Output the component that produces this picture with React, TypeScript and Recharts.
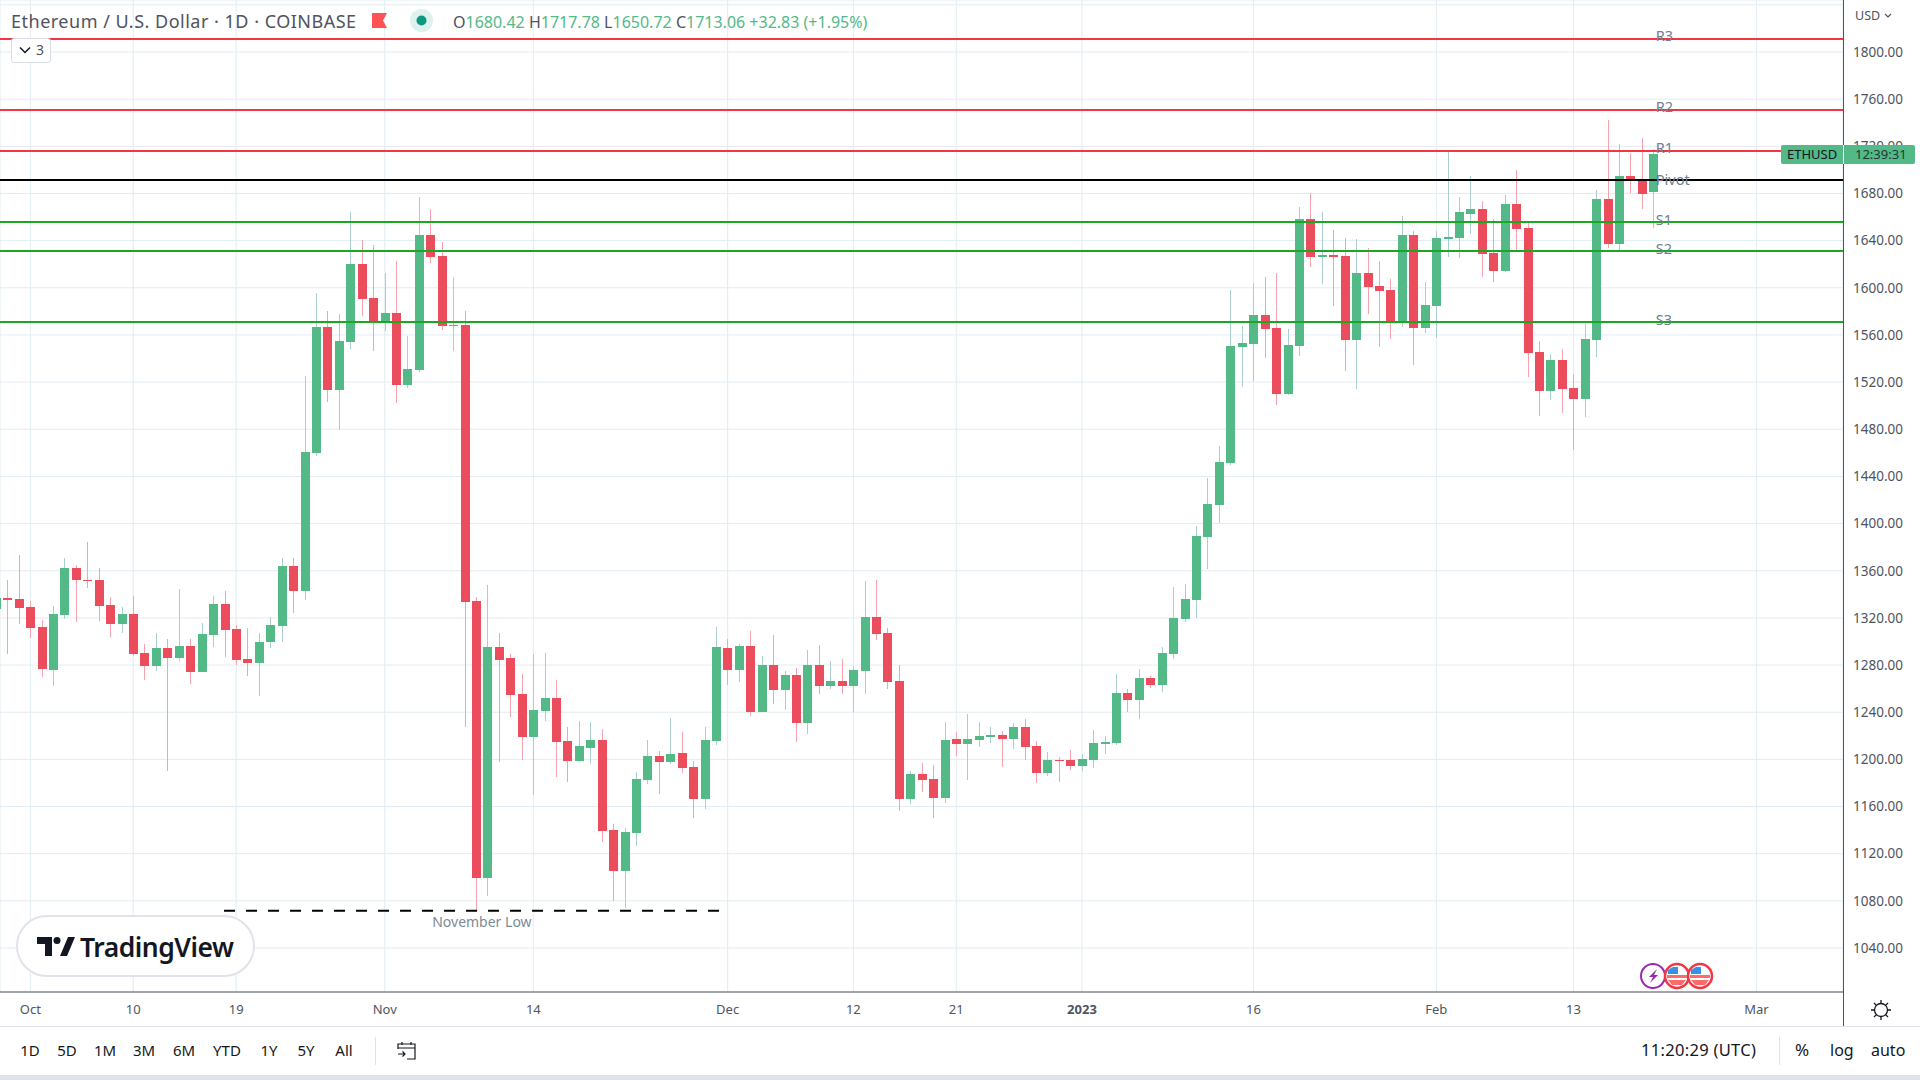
import { Bar, CartesianGrid, ComposedChart, ReferenceDot, ReferenceLine, XAxis, YAxis } from "recharts";

const FONT = '"Noto Sans", sans-serif';

// first entry is 28 Sep 2022, last is 20 Feb 2023, index 0 is 1 Oct
const firstDay = -3;
const opens = [
  1327.9, 1337.2, 1336.4, 1329.6, 1312.6, 1276.2, 1322.8, 1362.7, 1352.5, 1352.5, 1331.3, 1315.2, 1323.7, 1290.6, 1279.6, 1294.8, 1286.4, 1296.5, 1274.5, 1305.9,
  1332.2, 1311, 1285.5, 1282.1, 1299.9, 1313.5, 1364.4, 1342.8, 1459.8, 1566.6, 1513.2, 1553.9, 1620.1, 1591.2, 1571.7, 1578.5, 1517.4, 1530.2, 1644.7, 1626.9,
  1567.5, 1568.3, 1334.7, 1099.8, 1295.7, 1286.4, 1255.8, 1219.4, 1241.4, 1252.4, 1216, 1199, 1210, 1216.8, 1140.5, 1105.7, 1137.9, 1182.9, 1203.2, 1198.2,
  1205.8, 1193.9, 1166.8, 1216, 1294.8, 1276.2, 1296.5, 1240.6, 1280.4, 1259.2, 1271.9, 1231.2, 1280.4, 1262.6, 1266.9, 1262.6, 1275.3, 1321.1, 1307.6, 1266.9,
  1166.8, 1188, 1183.7, 1167.6, 1217.7, 1213.4, 1216.8, 1219.4, 1221.1, 1217.7, 1227.8, 1211.7, 1188.8, 1199.9, 1199.9, 1194.8, 1199.9, 1213.4, 1214.3, 1256.7,
  1250.7, 1269.4, 1263.5, 1289.8, 1319.4, 1335.5, 1388.5, 1415.7, 1451.3, 1549.7, 1552.2, 1576.8, 1565.8, 1509.8, 1550.5, 1658.2, 1626, 1627.7, 1626.9, 1555.6,
  1612.4, 1601.4, 1598, 1571.7, 1644.7, 1565.8, 1584.4, 1641.3, 1642.1, 1662.5, 1666.9, 1629.5, 1614.3, 1671.1, 1650.7, 1545.6, 1512.5, 1538.8, 1515, 1505.7,
  1555.8, 1675.3, 1637.2, 1694.8, 1691.4, 1680.42,
];
const highs = [
  1343, 1352.5, 1373.7, 1334.7, 1318.6, 1330.5, 1371.2, 1365.2, 1384.7, 1362.7, 1338.1, 1329.6, 1338.9, 1298.2, 1307.6, 1302.5, 1344.9, 1302.5, 1316, 1338.9,
  1343.2, 1314.3, 1311.8, 1307.6, 1321.1, 1371.2, 1371.2, 1525.1, 1595.5, 1580.2, 1577.7, 1664.2, 1640.4, 1636.2, 1612.4, 1622.6, 1559, 1676.9, 1666.7, 1638.7,
  1609, 1580.2, 1338.1, 1348.3, 1307.6, 1289.8, 1272.8, 1289.8, 1290.6, 1267.7, 1227.8, 1232.9, 1232.1, 1226.1, 1145.6, 1142.2, 1189.7, 1216.8, 1207.5, 1235.5,
  1223.6, 1199, 1227.8, 1312.6, 1302.5, 1298.2, 1309.3, 1288.1, 1305.9, 1275.3, 1277.9, 1293.1, 1297.4, 1283.8, 1285.5, 1279.6, 1351.7, 1352.5, 1311.8, 1280.4,
  1190.5, 1197.3, 1195.6, 1232.1, 1223.6, 1238.9, 1232.1, 1227.8, 1224.4, 1231.2, 1234.6, 1216, 1206.6, 1202.4, 1208.3, 1204.9, 1225.3, 1220.2, 1272.8, 1260.1,
  1277, 1271.1, 1295.7, 1346.6, 1349.1, 1397.9, 1438.6, 1465.7, 1598, 1567.5, 1604, 1609, 1612.4, 1564.9, 1668.4, 1680.3, 1664.2, 1648.9, 1642.1, 1641.3,
  1633.6, 1622.6, 1607.3, 1660.8, 1648.1, 1604.8, 1648.1, 1715, 1676.9, 1694.7, 1673.6, 1658.4, 1678.7, 1699.9, 1655, 1554.9, 1543.9, 1548.1, 1526.9, 1569.3,
  1683, 1742.3, 1722, 1714.3, 1727, 1717.78,
];
const lows = [
  1315, 1289, 1315.2, 1303.3, 1270.2, 1262.6, 1319.4, 1316.9, 1345.7, 1317.7, 1304.2, 1307.6, 1288.1, 1267.7, 1275.3, 1190.5, 1283.8, 1264.3, 1274.5, 1295.7,
  1287.2, 1280.4, 1271.1, 1254.1, 1294.8, 1299.9, 1324.5, 1335, 1457.2, 1503, 1479.3, 1548, 1576, 1546.3, 1563.2, 1502.2, 1514.9, 1528.5, 1620.9, 1564.1,
  1546.3, 1227.8, 1071.8, 1084.5, 1198.2, 1236.3, 1199.9, 1170.2, 1232.9, 1185.4, 1181.2, 1198.2, 1196.5, 1130.3, 1080.3, 1074.3, 1126.9, 1179.5, 1171, 1196.5,
  1188.8, 1150.7, 1158.3, 1212.6, 1263.5, 1266, 1237.2, 1240.6, 1247.3, 1242.3, 1215.1, 1221.9, 1255.8, 1260.1, 1255.8, 1240.6, 1255.8, 1301.6, 1260.1, 1155.8,
  1162.5, 1172.7, 1150.7, 1163.3, 1203.2, 1182.9, 1210.9, 1214.3, 1193.9, 1209.2, 1199.9, 1180.3, 1186.3, 1181.2, 1191.4, 1190.5, 1193.1, 1204.9, 1212.6, 1240.6,
  1234.6, 1260.9, 1257.5, 1285.5, 1316.9, 1320.3, 1361.4, 1400.4, 1449.6, 1515.8, 1520.8, 1540.3, 1500.5, 1509, 1542, 1617.5, 1603.1, 1584.4, 1529.3, 1514,
  1577.7, 1549.7, 1556.5, 1566.6, 1534.4, 1561.5, 1557.3, 1626, 1625.2, 1645.5, 1609.2, 1604.9, 1613.4, 1632.1, 1524.4, 1491.3, 1504.9, 1493.8, 1462.5, 1490.4,
  1541.3, 1633.8, 1632.1, 1680.4, 1666.9, 1650.72,
];
const closes = [
  1337.2, 1335.5, 1328.8, 1311.8, 1277, 1323.7, 1362.7, 1352.5, 1351.7, 1330.5, 1315.2, 1323.7, 1289.8, 1279.6, 1294.8, 1286.4, 1296.5, 1274.5, 1306.7, 1332.2,
  1310.1, 1284.7, 1282.1, 1299.9, 1314.3, 1364.4, 1343.2, 1460.6, 1566.6, 1513.2, 1554.7, 1620.1, 1590.4, 1571.7, 1578.5, 1517.4, 1531, 1644.7, 1626, 1567.5,
  1568.3, 1333.6, 1099.8, 1295.7, 1284.7, 1255, 1219.4, 1242.3, 1252.4, 1215.1, 1199, 1211.7, 1216.8, 1139.6, 1105.7, 1138.8, 1183.7, 1203.2, 1198.2, 1204.9,
  1193.1, 1166.8, 1216.8, 1295.7, 1276.2, 1296.5, 1240.6, 1280.4, 1259.2, 1271.9, 1231.2, 1280.4, 1262.6, 1266.9, 1262.6, 1276.2, 1321.1, 1306.7, 1266, 1166.8,
  1188, 1182.9, 1167.6, 1216.8, 1213.4, 1217.7, 1220.2, 1221.1, 1217.7, 1227.8, 1210.9, 1188.8, 1199.9, 1199, 1194.8, 1200.7, 1214.3, 1215.1, 1256.7, 1250.7,
  1269.4, 1263.5, 1290.6, 1320.3, 1336.4, 1389.4, 1416.5, 1452.1, 1550.5, 1553.1, 1576.8, 1564.9, 1509.8, 1551.4, 1658.2, 1626, 1627.7, 1626, 1555.6, 1612.4,
  1600.6, 1597.2, 1571.7, 1644.7, 1565.8, 1585.3, 1642.1, 1643, 1664.2, 1666.7, 1628.7, 1614.3, 1671.1, 1649.9, 1544.7, 1512.5, 1538.8, 1514.2, 1505.7, 1556.6,
  1675.3, 1637.2, 1694.8, 1691.4, 1679.6, 1713.06,
];

const candles = opens.map((open, i) => ({
  day: firstDay + i,
  open,
  close: closes[i],
  range: [lows[i], highs[i]],
}));

const priceTicks = [1040, 1080, 1120, 1160, 1200, 1240, 1280, 1320, 1360, 1400, 1440, 1480, 1520, 1560, 1600, 1640, 1680, 1720, 1760, 1800, 1840];
const dateTicks = [0, 9, 18, 31, 44, 61, 72, 81, 92, 107, 123, 135, 151];
const dateLabels = ["Oct", "10", "19", "Nov", "14", "Dec", "12", "21", "2023", "16", "Feb", "13", "Mar"];

const pivotNames = ["R3", "R2", "R1", "Pivot", "S1", "S2", "S3"];
const pivotPrices = [1811, 1750.8, 1716, 1691.5, 1655.8, 1631.2, 1571];
const pivotColors = ["#f23645", "#f23645", "#f23645", "#000000", "#1aa821", "#1aa821", "#1aa821"];

const rangeButtons = ["1D", "5D", "1M", "3M", "6M", "YTD", "1Y", "5Y", "All"];
const rangeButtonX = [30, 67, 105, 144, 184, 227, 269, 306, 344];

const Candle = (props: any) => {
  const { x, y, width, height, payload } = props;
  const [low, high] = payload.range;
  const perUnit = height / (high - low);
  const up = payload.close >= payload.open;
  const top = y + (high - Math.max(payload.open, payload.close)) * perUnit;
  const bodyHeight = Math.max(1, Math.abs(payload.close - payload.open) * perUnit);
  const mid = Math.round(x + width / 2);
  return (
    <g shapeRendering="crispEdges">
      <rect x={mid} y={y} width={1} height={height} fill={up ? "#a8ced2" : "#f7a3ae"} />
      <rect x={mid - 4} y={Math.round(top)} width={9} height={Math.max(1, Math.round(bodyHeight))} fill={up ? "#53b987" : "#eb4d5c"} />
    </g>
  );
};

const DateTick = (props: any) => {
  const { x, y, payload } = props;
  const label = dateLabels[dateTicks.indexOf(payload.value)];
  return (
    <text x={x} y={y} dy={14} textAnchor="middle" fontFamily={FONT} fontSize={13} fill="#4f5560" fontWeight={label === "2023" ? 700 : 400}>
      {label}
    </text>
  );
};

const place = (left: number, top: number, extra: any = {}) => ({
  position: "absolute" as const,
  left,
  top,
  fontFamily: FONT,
  whiteSpace: "nowrap" as const,
  ...extra,
});

const Header = () => (
  <>
    <div style={place(11, 9, { fontSize: 18, lineHeight: "24px", letterSpacing: 0.5, color: "#50535e" })}>Ethereum / U.S. Dollar · 1D · COINBASE</div>
    <svg style={place(372, 13)} width={16} height={16}>
      <path d="M0 0H15L11 7.5L15 15H0Z" fill="#ff5252" />
    </svg>
    <svg style={place(410, 9)} width={23} height={23}>
      <circle cx={11.5} cy={11.5} r={11.5} fill="#dff1ee" />
      <circle cx={11.5} cy={11.5} r={5} fill="#089981" />
    </svg>
    <div style={place(453, 11, { fontSize: 16, lineHeight: "22px", color: "#53b987" })}>
      <span style={{ color: "#50535e" }}>O</span>1680.42{" "}
      <span style={{ color: "#50535e" }}>H</span>1717.78{" "}
      <span style={{ color: "#50535e" }}>L</span>1650.72{" "}
      <span style={{ color: "#50535e" }}>C</span>1713.06 +32.83 (+1.95%)
    </div>
    <div style={place(11, 38, { width: 38, height: 23, border: "1px solid #dadde5", borderRadius: 3, background: "#fff" })}>
      <svg style={place(7, 7)} width={12} height={9}>
        <path d="M1 1.5L6 6.5L11 1.5" fill="none" stroke="#131722" strokeWidth={1.5} />
      </svg>
      <div style={place(24, 2, { fontSize: 14, lineHeight: "18px", color: "#50535e" })}>3</div>
    </div>
  </>
);

const PriceScaleParts = () => (
  <>
    <div style={place(1843, 0, { width: 1, height: 1026, background: "#50535e" })} />
    <div style={place(1855, 7, { fontSize: 12.5, lineHeight: "18px", color: "#50535e" })}>USD</div>
    <svg style={place(1884, 13)} width={8} height={6}>
      <path d="M1 1L4 4L7 1" fill="none" stroke="#50535e" strokeWidth={1.2} />
    </svg>
    <div style={place(1781, 145, { width: 134, height: 19, background: "#53b987", borderRadius: 2 })} />
    <div style={place(1843, 145, { width: 1, height: 19, background: "#ffffff" })} />
    <div style={place(1787, 145, { fontSize: 13, lineHeight: "19px", color: "#131722" })}>ETHUSD</div>
    <div style={place(1855, 145, { fontSize: 13, lineHeight: "19px", color: "#1f3a30" })}>12:39:31</div>
    <svg style={place(1870, 999)} width={22} height={22}>
      <circle cx={11} cy={11} r={6.5} fill="none" stroke="#131722" strokeWidth={1.3} />
      <path d="M11 1V4.5M11 17.5V21M1 11H4.5M17.5 11H21M4 4L6.4 6.4M15.6 15.6L18 18M4 18L6.4 15.6M15.6 6.4L18 4" stroke="#131722" strokeWidth={1.3} />
    </svg>
  </>
);

const Logo = () => (
  <div style={place(16, 915, { width: 239, height: 62, boxSizing: "border-box", border: "2px solid #e0e3eb", borderRadius: 31, background: "#fff" })}>
    <svg style={place(19, 20)} width={40} height={20}>
      <path d="M0 0H15V19H8V7H0Z" fill="#131722" />
      <circle cx={20} cy={3.5} r={3.5} fill="#131722" />
      <path d="M38 0L30 19H23L31 0Z" fill="#131722" />
    </svg>
    <div style={place(62, 13, { fontSize: 26.5, lineHeight: "34px", fontWeight: 600, letterSpacing: -0.5, color: "#131722" })}>TradingView</div>
  </div>
);

const EventBadges = () => (
  <svg style={place(1638, 961)} width={78} height={30}>
    <circle cx={15} cy={15} r={12} fill="#fff" stroke="#9c27b0" strokeWidth={2} />
    <path d="M19 8L11 16H15L12 22L20 14H16Z" fill="#9c27b0" />
    {[39, 62].map((cx) => (
      <g key={cx}>
        <circle cx={cx} cy={15} r={12} fill="#fff" stroke="#f23645" strokeWidth={2.5} />
        <path d={`M${cx - 9} 19H${cx + 9}L${cx + 5} 24H${cx - 5}Z`} fill="#ff6b6b" />
        <rect x={cx - 10} y={14} width={20} height={3} fill="#ff6b6b" />
        <path d={`M${cx - 9} 13V9L${cx - 4} 6H${cx + 1}V13Z`} fill="#3a8fe8" />
      </g>
    ))}
  </svg>
);

const BottomBar = () => (
  <>
    <div style={place(0, 1026, { width: 1920, height: 1, background: "#e0e3eb" })} />
    {rangeButtons.map((label, i) => (
      <div key={label} style={place(rangeButtonX[i], 1040, { fontSize: 15, lineHeight: "20px", color: "#131722", transform: "translateX(-50%)" })}>
        {label}
      </div>
    ))}
    <div style={place(375, 1037, { width: 1, height: 28, background: "#e0e3eb" })} />
    <svg style={place(397, 1041)} width={20} height={19}>
      <path d="M1 8V3H18V18H10M1 7H18M5 1V4M14 1V4M1 13H8M5.5 10.5L8 13L5.5 15.5" fill="none" stroke="#131722" strokeWidth={1.2} />
    </svg>
    <div style={place(1641, 1039, { fontSize: 16.5, lineHeight: "22px", letterSpacing: 0.3, color: "#131722" })}>11:20:29 (UTC)</div>
    <div style={place(1779, 1037, { width: 1, height: 28, background: "#e0e3eb" })} />
    <div style={place(1795, 1039, { fontSize: 17, lineHeight: "22px", color: "#131722" })}>%</div>
    <div style={place(1830, 1039, { fontSize: 16, lineHeight: "22px", color: "#131722" })}>log</div>
    <div style={place(1871, 1039, { fontSize: 16, lineHeight: "22px", color: "#131722" })}>auto</div>
    <div style={place(0, 1075, { width: 1920, height: 5, background: "#e0e3eb" })} />
  </>
);

export default function App() {
  return (
    <div style={{ position: "absolute", left: 0, top: 0, width: 1920, height: 1080, overflow: "hidden", background: "#fff" }}>
      <ComposedChart width={1920} height={1080} data={candles} margin={{ top: 0, right: 0, bottom: 54, left: 0 }}>
        <CartesianGrid stroke="#e2ecf2" strokeWidth={1} />
        <XAxis
          dataKey="day"
          type="number"
          domain={[-2.66, 158.58]}
          allowDataOverflow
          ticks={dateTicks}
          interval={0}
          height={34}
          tickLine={false}
          axisLine={{ stroke: "#50535e" }}
          tick={<DateTick />}
        />
        <YAxis
          orientation="right"
          type="number"
          domain={[1002.7, 1844.1]}
          allowDataOverflow
          ticks={priceTicks}
          interval={0}
          width={77}
          tickLine={false}
          axisLine={false}
          tickMargin={4}
          tick={{ fontFamily: FONT, fontSize: 13.5, fill: "#50535e" }}
          tickFormatter={(v: number) => (v === 1840 ? "" : v.toFixed(2))}
        />
        <Bar dataKey="range" barSize={9} shape={<Candle />} isAnimationActive={false} />
        {pivotPrices.map((price, i) => (
          <ReferenceLine key={pivotNames[i]} y={price} stroke={pivotColors[i]} strokeWidth={2} />
        ))}
        {pivotPrices.map((price, i) => (
          <ReferenceDot
            key={"label-" + pivotNames[i]}
            x={142.2}
            y={price + (i < 3 ? 3 : i === 3 ? 0 : 2)}
            r={0}
            label={{ value: pivotNames[i], position: "right", offset: 0, fill: "#6f8090", fontSize: 14.5, fontFamily: FONT }}
          />
        ))}
        <ReferenceLine
          segment={[{ x: 16.94, y: 1071.6 }, { x: 60.33, y: 1071.6 }]}
          stroke="#000000"
          strokeWidth={2}
          strokeDasharray="11 11"
        />
        <ReferenceDot
          x={39.5}
          y={1062}
          r={0}
          label={{ value: "November Low", position: "center", fill: "#7b8a98", fontSize: 14, fontFamily: FONT }}
        />
      </ComposedChart>
      <Header />
      <PriceScaleParts />
      <Logo />
      <EventBadges />
      <BottomBar />
    </div>
  );
}
